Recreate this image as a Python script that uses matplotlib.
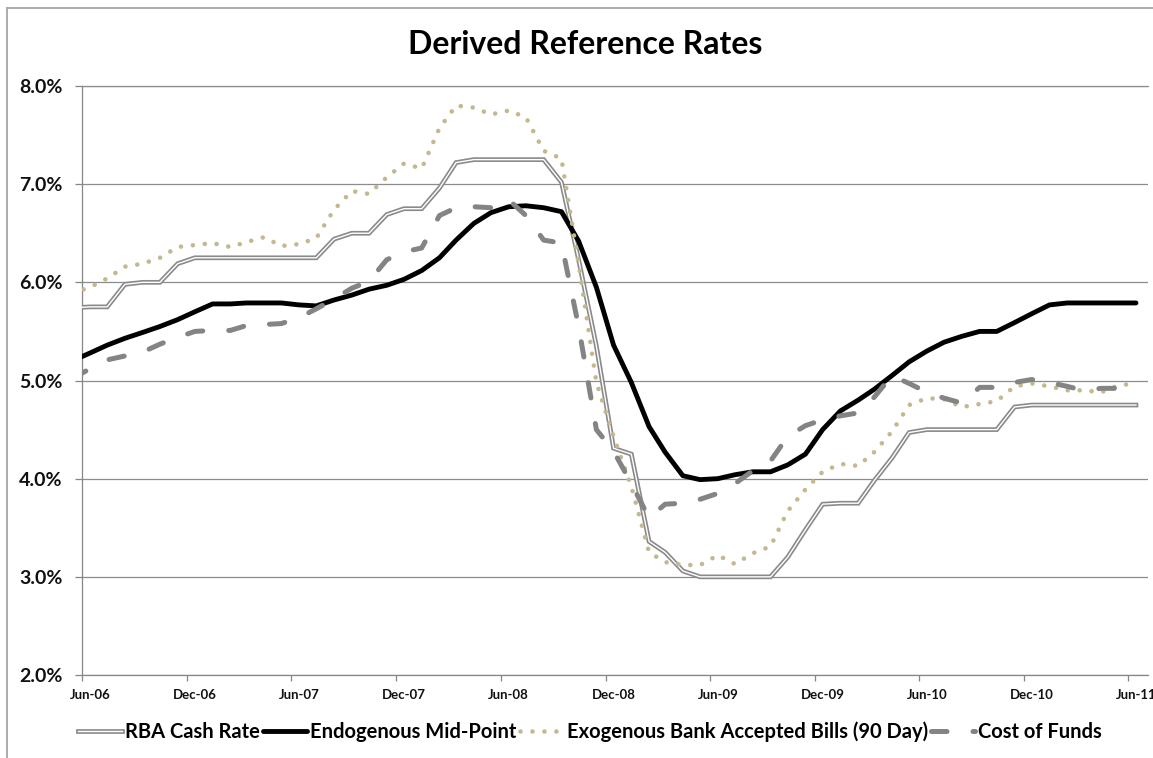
import matplotlib
matplotlib.use('Agg')
import matplotlib.pyplot as plt
import matplotlib.dates as mdates
import matplotlib.patheffects as pe
from matplotlib.lines import Line2D
import pandas as pd

# monthly averages, May-06 .. Jun-11 (first month sits just left of the axis start)
first_month = '2006-05'
last_month = '2011-06'

rba_cash = [5.74, 5.75, 5.75, 5.98, 6.00, 6.00, 6.19,
            6.25, 6.25, 6.25, 6.25, 6.25, 6.25, 6.25, 6.25,
            6.44, 6.50, 6.50, 6.69, 6.75, 6.75, 6.96, 7.22,
            7.25, 7.25, 7.25, 7.25, 7.25, 7.02, 6.23, 5.35, 4.31, 4.25,
            3.36, 3.25, 3.06, 3.00, 3.00, 3.00, 3.00, 3.00,
            3.20, 3.48, 3.74, 3.75, 3.75, 3.98, 4.21, 4.47,
            4.50, 4.50, 4.50, 4.50, 4.50, 4.73,
            4.75, 4.75, 4.75, 4.75, 4.75, 4.75, 4.75]

endogenous = [5.20, 5.28, 5.36, 5.43, 5.49, 5.55, 5.62,
              5.70, 5.78, 5.78, 5.79, 5.79, 5.79, 5.77, 5.76,
              5.82, 5.87, 5.93, 5.97, 6.03, 6.12, 6.25, 6.43,
              6.60, 6.71, 6.77, 6.78, 6.76, 6.72, 6.42, 5.95, 5.36, 4.98,
              4.53, 4.27, 4.03, 3.99, 4.00, 4.04, 4.07, 4.07,
              4.14, 4.25, 4.50, 4.69, 4.80, 4.91, 5.05, 5.19,
              5.30, 5.39, 5.45, 5.50, 5.50, 5.59,
              5.68, 5.77, 5.79, 5.79, 5.79, 5.79, 5.79]

exogenous_bab = [5.89, 5.95, 6.04, 6.16, 6.19, 6.25, 6.36,
                 6.38, 6.40, 6.36, 6.41, 6.46, 6.37, 6.39, 6.45,
                 6.74, 6.93, 6.90, 7.07, 7.21, 7.16, 7.57, 7.80,
                 7.78, 7.71, 7.75, 7.68, 7.34, 7.26, 6.19, 4.98, 4.43, 3.92,
                 3.25, 3.15, 3.12, 3.12, 3.22, 3.13, 3.24, 3.31,
                 3.67, 3.89, 4.07, 4.15, 4.13, 4.27, 4.48, 4.75,
                 4.82, 4.81, 4.73, 4.76, 4.79, 4.94,
                 4.97, 4.94, 4.90, 4.90, 4.88, 4.95, 4.97]

cost_of_funds = [5.02, 5.12, 5.21, 5.25, 5.29, 5.37, 5.44,
                 5.50, 5.51, 5.51, 5.56, 5.57, 5.58, 5.64, 5.73,
                 5.83, 5.94, 6.01, 6.23, 6.31, 6.35, 6.68, 6.76,
                 6.77, 6.76, 6.84, 6.68, 6.43, 6.40, 5.55, 4.50, 4.28, 3.95,
                 3.60, 3.74, 3.75, 3.79, 3.85, 3.95, 4.08, 4.18,
                 4.43, 4.54, 4.60, 4.64, 4.67, 4.83, 5.05, 4.97,
                 4.88, 4.82, 4.77, 4.93, 4.93, 4.98,
                 5.01, 4.98, 4.94, 4.90, 4.92, 4.92, 4.91]

series_names = ['RBA Cash Rate', 'Endogenous Mid-Point',
                'Exogenous Bank Accepted Bills (90 Day)', 'Cost of Funds']

# points sit mid-month
dates = pd.period_range(first_month, last_month, freq='M').to_timestamp() + pd.Timedelta(days=14)

plt.rcParams['font.family'] = ['Lato', 'DejaVu Sans']
plt.rcParams['font.weight'] = 'bold'

fig = plt.figure(figsize=(11.53, 7.58), dpi=100)
ax = fig.add_axes([82 / 1153, 1 - 675 / 758, (1148 - 82) / 1153, (675 - 86) / 758])

grid_col = '#8c8c8c'
axis_col = '#868686'
rba_col = '#8a8a8a'
bab_col = '#c4b88f'
cof_col = '#848484'

# RBA cash rate: excel style double line (white core, grey outline)
double_line = [pe.Stroke(linewidth=3.4, foreground=rba_col), pe.Normal()]
l_rba, = ax.plot(dates, rba_cash, color='white', lw=1.0, solid_joinstyle='miter',
                 path_effects=double_line, zorder=3)
l_endo, = ax.plot(dates, endogenous, color='black', lw=3.5, solid_capstyle='round',
                  solid_joinstyle='round', zorder=4)
l_bab, = ax.plot(dates, exogenous_bab, color=bab_col, lw=3.3, linestyle=(0, (0.01, 2.6)),
                 dash_capstyle='round', zorder=5)
l_cof, = ax.plot(dates, cost_of_funds, color=cof_col, lw=3.6, linestyle=(0, (3.1, 5.2)),
                 dash_capstyle='round', zorder=6)

ax.set_ylim(2.0, 8.0)
ax.set_yticks([2, 3, 4, 5, 6, 7, 8])
ax.yaxis.set_major_formatter(plt.FuncFormatter(lambda v, p: '%.1f%%' % v))
ax.set_xlim(pd.Timestamp('2006-06-01'), pd.Timestamp('2011-07-06'))
# tick marks at month start, labels centred on the month
ax.xaxis.set_major_locator(mdates.MonthLocator(bymonth=[6, 12]))
ax.xaxis.set_major_formatter(plt.NullFormatter())
ax.xaxis.set_minor_locator(mdates.MonthLocator(bymonth=[6, 12], bymonthday=15))
ax.xaxis.set_minor_formatter(mdates.DateFormatter('%b-%y'))

ax.grid(axis='y', color=grid_col, lw=0.9, zorder=1)
ax.set_axisbelow(True)
ax.spines['right'].set_visible(False)
ax.spines['top'].set_color(grid_col)
ax.spines['top'].set_linewidth(0.9)
for s in ['left', 'bottom']:
    ax.spines[s].set_color(axis_col)
    ax.spines[s].set_linewidth(0.9)

ax.tick_params(axis='y', direction='out', length=5, width=0.9, color=axis_col,
               pad=9, labelsize=14, labelcolor='#111111')
ax.tick_params(axis='x', which='major', direction='out', length=4, width=0.9, color=axis_col)
ax.tick_params(axis='x', which='minor', length=0, pad=10, labelsize=9.5, labelcolor='#111111')

fig.text(585 / 1153, 1 - 45 / 758, 'Derived Reference Rates', ha='center', va='center',
         fontsize=23, fontweight='bold', color='black')

# legend
fig.legend([l_rba, l_endo, l_bab, l_cof], series_names,
           loc='center', bbox_to_anchor=(590 / 1153, 1 - 732 / 758), ncol=4,
           frameon=False, fontsize=14.5, handlelength=2.2, handletextpad=0.15,
           columnspacing=0.15, borderpad=0, borderaxespad=0)

# chart area border (top and left visible)
fig.add_artist(Line2D([7 / 1153, 1], [1 - 8 / 758, 1 - 8 / 758], color='#a6a6a6', lw=1.3,
                      transform=fig.transFigure))
fig.add_artist(Line2D([7 / 1153, 7 / 1153], [0, 1 - 8 / 758], color='#a6a6a6', lw=1.3,
                      transform=fig.transFigure))

fig.savefig('out.png', dpi=100)
